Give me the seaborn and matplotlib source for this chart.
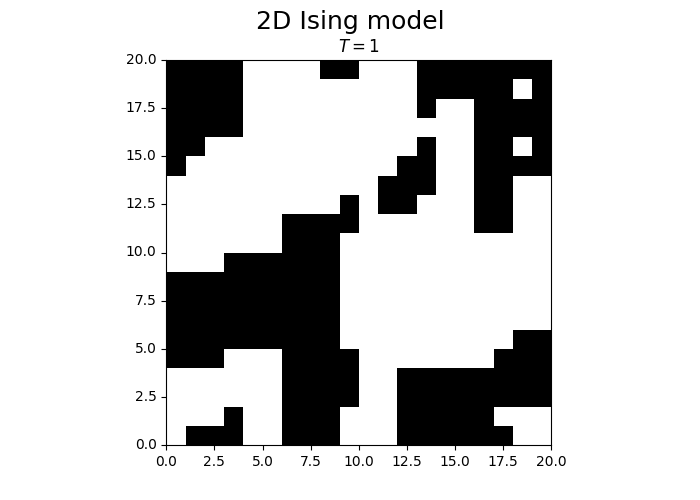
import numpy as np
import matplotlib
matplotlib.use("Agg")
import matplotlib.pyplot as plt
import seaborn as sns

# spin lattice, top row (y = 19) first; 1 = black, 0 = white
spins = [
    [1,1,1,1,0,0,0,0,1,1,0,0,0,1,1,1,1,1,1,1],
    [1,1,1,1,0,0,0,0,0,0,0,0,0,1,1,1,1,1,0,1],
    [1,1,1,1,0,0,0,0,0,0,0,0,0,1,0,0,1,1,1,1],
    [1,1,1,1,0,0,0,0,0,0,0,0,0,0,0,0,1,1,1,1],
    [1,1,0,0,0,0,0,0,0,0,0,0,0,1,0,0,1,1,0,1],
    [1,0,0,0,0,0,0,0,0,0,0,0,1,1,0,0,1,1,1,1],
    [0,0,0,0,0,0,0,0,0,0,0,1,1,1,0,0,1,1,0,0],
    [0,0,0,0,0,0,0,0,0,1,0,1,1,0,0,0,1,1,0,0],
    [0,0,0,0,0,0,1,1,1,1,0,0,0,0,0,0,1,1,0,0],
    [0,0,0,0,0,0,1,1,1,0,0,0,0,0,0,0,0,0,0,0],
    [0,0,0,1,1,1,1,1,1,0,0,0,0,0,0,0,0,0,0,0],
    [1,1,1,1,1,1,1,1,1,0,0,0,0,0,0,0,0,0,0,0],
    [1,1,1,1,1,1,1,1,1,0,0,0,0,0,0,0,0,0,0,0],
    [1,1,1,1,1,1,1,1,1,0,0,0,0,0,0,0,0,0,0,0],
    [1,1,1,1,1,1,1,1,1,0,0,0,0,0,0,0,0,0,1,1],
    [1,1,1,0,0,0,1,1,1,1,0,0,0,0,0,0,0,1,1,1],
    [0,0,0,0,0,0,1,1,1,1,0,0,1,1,1,1,1,1,1,1],
    [0,0,0,0,0,0,1,1,1,1,0,0,1,1,1,1,1,1,1,1],
    [0,0,0,1,0,0,1,1,1,0,0,0,1,1,1,1,1,0,0,0],
    [0,1,1,1,0,0,1,1,1,0,0,0,1,1,1,1,1,1,0,0],
]
temperature = 1
ticks = [0, 2.5, 5, 7.5, 10, 12.5, 15, 17.5, 20]

fig, ax = plt.subplots(figsize=(7, 5), dpi=100)

# flip so row 0 sits at y = 0
grid = np.flipud(np.array(spins))
sns.heatmap(grid, cmap="binary", vmin=0, vmax=1, cbar=False, square=True, ax=ax)
ax.set_ylim(0, grid.shape[0])
ax.set_xlim(0, grid.shape[1])

for s in ax.spines.values():
    s.set_visible(True)
    s.set_linewidth(0.8)
    s.set_color("black")

labels = [f"{t:.1f}" for t in ticks]
ax.set_xticks(ticks, labels=labels)
ax.set_yticks(ticks, labels=labels)
ax.tick_params(labelrotation=0)
ax.set_xlabel("")
ax.set_ylabel("")

ax.set_title(f"$T={temperature}$")
fig.suptitle("2D Ising model", fontsize=18)

plt.savefig("out.png", dpi=100)
